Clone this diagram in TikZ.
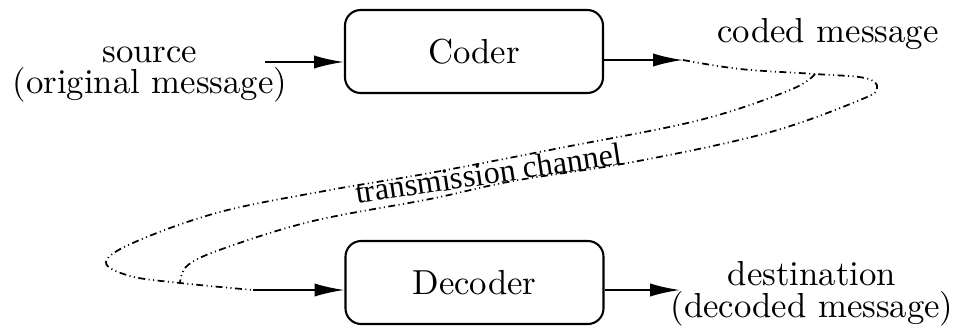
\documentclass[tikz,border=0pt]{standalone}
\usepackage{fontspec}
\newfontfamily\chanfont{Liberation Serif}
\usetikzlibrary{arrows.meta}
\begin{document}
\begin{tikzpicture}[x=0.288pt,y=-0.288pt,
  every node/.style={font=\fontsize{10}{12}\selectfont},
  lbl/.style={anchor=base,inner sep=0pt},
  twoline/.style={inner sep=0pt,align=center,font=\fontsize{10}{#1}\selectfont},
  box/.style={draw,line width=0.6pt,rounded corners=4.5pt,
    minimum width=74.3pt,minimum height=23.9pt,inner sep=0pt},
  arr/.style={line width=0.6pt,-{Latex[length=8.6pt,width=3.8pt]}},
  chan/.style={line width=0.5pt,
    dash pattern=on 2pt off 1pt on 0.3pt off 1pt on 0.3pt off 1pt}]
\useasboundingbox (0,0) rectangle (958,331);

% blocks
\node[box] (coder) at (474,51.5) {Coder};
\node[box] (decoder) at (474.5,282.5) {Decoder};

% labels
\node[twoline=8.9pt] (src) at (150,74.5) {source\\(original message)};
\node[lbl] (coded) at (828,42) {coded message};
\node[twoline=9.3pt] (dest) at (812,293.5) {destination\\(decoded message)};
\node[lbl,rotate=8.5,font=\chanfont\fontsize{9.2}{11}\selectfont]
  (chan) at (490,184) {transmission channel};

% free ends of the connectors
\coordinate (srcout) at (265,62);
\coordinate (S) at (683,60);
\coordinate (P) at (815,74);
\coordinate (Q) at (180,283);
\coordinate (D) at (253,290);
\coordinate (T) at (680,290);

% solid arrows
\draw[arr] (srcout) -- (srcout -| coder.west);
\draw[arr] (coder.east |- S) -- (S);
\draw[arr] (D) -- (D -| decoder.west);
\draw[arr] (decoder.east |- T) -- (T);

% the twisted transmission channel
\draw[chan] plot[smooth,tension=0.6] coordinates {(S) (740,69) (P) (865,78)
  (877,88) (860,100) (767,133) (633,162) (513,181) (430,199) (313,221)
  (225,248) (188,265) (Q)};
\draw[chan] plot[smooth,tension=0.6] coordinates {(P) (790,90) (700,120)
  (560,148) (430,173) (330,190) (220,212) (135,242) (106,262) (130,276)
  (Q) (D)};
\end{tikzpicture}
\end{document}
